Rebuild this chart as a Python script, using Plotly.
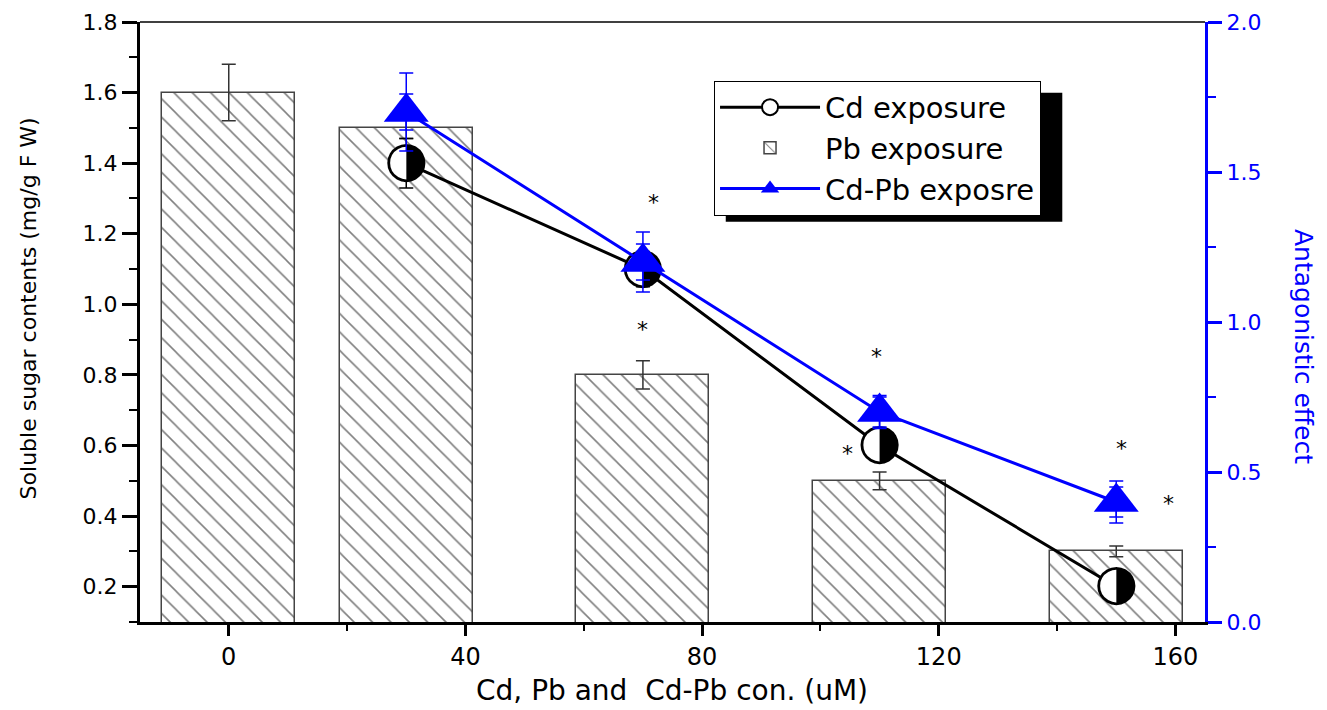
import plotly.graph_objects as go

# ---------------- data ----------------
conc_x = [0, 30, 70, 110, 150]
pb_vals = [1.6, 1.5, 0.8, 0.5, 0.3]
pb_err = [0.08, 0.03, 0.04, 0.025, 0.015]

cd_x = [30, 70, 110, 150]
cd_vals = [1.4, 1.1, 0.6, 0.2]
cd_err = [0.07, 0.05, 0.03, 0.02]

cdpb_x = [30, 70, 110, 150]
cdpb_vals = [1.7, 1.2, 0.7, 0.4]
cdpb_err = [0.13, 0.1, 0.055, 0.07]
cdpb_err_inner = [0.06, 0.06, 0.05, 0.05]

x_ticks = [0, 40, 80, 120, 160]
left_ticks = [0.2, 0.4, 0.6, 0.8, 1.0, 1.2, 1.4, 1.6, 1.8]
right_ticks = [0.0, 0.5, 1.0, 1.5, 2.0]

star_x = [71.8, 70, 109.5, 104.5, 150.9, 158.9]
star_y = [1.30, 0.94, 0.863, 0.588, 0.603, 0.446]

FONT = "DejaVu Sans"
BLUE = "#0000ff"

fig = go.Figure()

fig.add_trace(go.Bar(
    x=conc_x, y=pb_vals, width=22.5, name="Pb exposure",
    marker=dict(color="white", line=dict(color="#444444", width=1.5),
                pattern=dict(shape="\\", size=13, solidity=0.12,
                             fgcolor="black", bgcolor="white")),
    error_y=dict(type="data", array=pb_err, color="#333333", thickness=1.5, width=7),
    legendrank=2,
))

# Cd exposure: line + white background discs (glyph drawn on top)
fig.add_trace(go.Scatter(
    x=cd_x, y=cd_vals, mode="lines+markers", name="Cd exposure",
    line=dict(color="black", width=3),
    marker=dict(symbol="circle", size=34, color="white", line=dict(width=0)),
    error_y=dict(type="data", array=cd_err, color="black", thickness=1.5, width=7),
    showlegend=False,
))
fig.add_trace(go.Scatter(
    x=cd_x, y=cd_vals, mode="text", text=["\u25D1"] * len(cd_x),
    textposition="middle center",
    textfont=dict(family=FONT, size=50, color="black"),
    showlegend=False, hoverinfo="skip",
))
# legend entry for Cd exposure
fig.add_trace(go.Scatter(
    x=[None], y=[None], mode="lines+markers", name="Cd exposure",
    line=dict(color="black", width=3),
    marker=dict(symbol="circle", size=16, color="white", line=dict(color="black", width=2)),
    legendrank=1,
))

fig.add_trace(go.Scatter(
    x=cdpb_x, y=cdpb_vals, mode="markers", yaxis="y2",
    marker=dict(size=1, color=BLUE, opacity=0),
    error_y=dict(type="data", array=cdpb_err_inner, color=BLUE, thickness=1.5, width=7),
    showlegend=False, hoverinfo="skip",
))

fig.add_trace(go.Scatter(
    x=cdpb_x, y=cdpb_vals, mode="lines+markers", name="Cd-Pb exposre", yaxis="y2",
    line=dict(color=BLUE, width=3),
    marker=dict(symbol="triangle-up", size=39, color=BLUE),
    error_y=dict(type="data", array=cdpb_err, color=BLUE, thickness=1.5, width=7),
    legendrank=3,
))

annotations = []
for sx, sy in zip(star_x, star_y):
    annotations.append(dict(x=sx, y=sy, xref="x", yref="y", text="*", showarrow=False,
                            font=dict(family=FONT, size=22, color="black"),
                            xanchor="center", yanchor="middle", yshift=-4))

annotations.append(dict(x=0.4995, y=-0.114, xref="paper", yref="paper",
                        text="Cd, Pb and\u00a0 Cd-Pb con. (uM)", showarrow=False,
                        font=dict(family=FONT, size=28, color="black"),
                        xanchor="center", yanchor="middle"))
annotations.append(dict(x=-0.105, y=0.523, xref="paper", yref="paper",
                        text="Soluble sugar contents (mg/g F W)", showarrow=False,
                        textangle=-90,
                        font=dict(family=FONT, size=22, color="black"),
                        xanchor="center", yanchor="middle"))
annotations.append(dict(x=1.093, y=0.46, xref="paper", yref="paper",
                        text="Antagonistic effect", showarrow=False, textangle=90,
                        font=dict(family=FONT, size=25, color=BLUE),
                        xanchor="center", yanchor="middle"))

shapes = [
    dict(type="rect", xref="paper", yref="paper", x0=0.550, x1=0.866, y0=0.667, y1=0.882,
         fillcolor="black", line=dict(width=0), layer="above"),
    dict(type="line", xref="paper", yref="paper", x0=0, x1=1, y0=1, y1=1,
         line=dict(color="black", width=1.5)),
]

fig.update_layout(
    width=1327, height=710,
    margin=dict(l=140, r=122, t=22, b=88, autoexpand=False),
    paper_bgcolor="white", plot_bgcolor="white",
    font=dict(family=FONT, color="black"),
    showlegend=True,
    legend=dict(x=0.539, y=0.902, xanchor="left", yanchor="top",
                bgcolor="white", bordercolor="black", borderwidth=1,
                font=dict(family=FONT, size=29, color="black"),
                itemwidth=100, tracegroupgap=0),
    xaxis=dict(range=[-15, 165], tickvals=x_ticks, ticks="outside", ticklen=11,
               tickwidth=2.5, tickcolor="black", showline=True, linecolor="black",
               linewidth=3, showgrid=False, zeroline=False, automargin=False,
               tickfont=dict(family=FONT, size=24, color="black"),
               minor=dict(tickvals=[20, 60, 100, 140], ticks="outside", ticklen=6,
                          tickwidth=2, tickcolor="black")),
    yaxis=dict(range=[0.1, 1.8], tickvals=left_ticks, tickformat=".1f",
               ticks="outside", ticklen=15, tickwidth=2.5, tickcolor="black",
               showline=True, linecolor="black", linewidth=3, showgrid=False,
               zeroline=False, automargin=False,
               tickfont=dict(family=FONT, size=22, color="black"),
               minor=dict(dtick=0.1, tick0=0.1, ticks="outside", ticklen=8,
                          tickwidth=2, tickcolor="black")),
    yaxis2=dict(range=[0, 2], tickvals=right_ticks, tickformat=".1f", overlaying="y",
                side="right", ticks="outside", ticklen=14, tickwidth=2.5,
                tickcolor=BLUE, showline=True, linecolor=BLUE, linewidth=3,
                showgrid=False, zeroline=False, automargin=False,
                tickfont=dict(family=FONT, size=22, color=BLUE),
                minor=dict(dtick=0.25, tick0=0, ticks="outside", ticklen=8,
                           tickwidth=2, tickcolor=BLUE)),
    annotations=annotations,
    shapes=shapes,
    bargap=0,
)

fig.write_html("out.html", config={"displayModeBar": False},
               post_script="document.body.style.margin='0';")
